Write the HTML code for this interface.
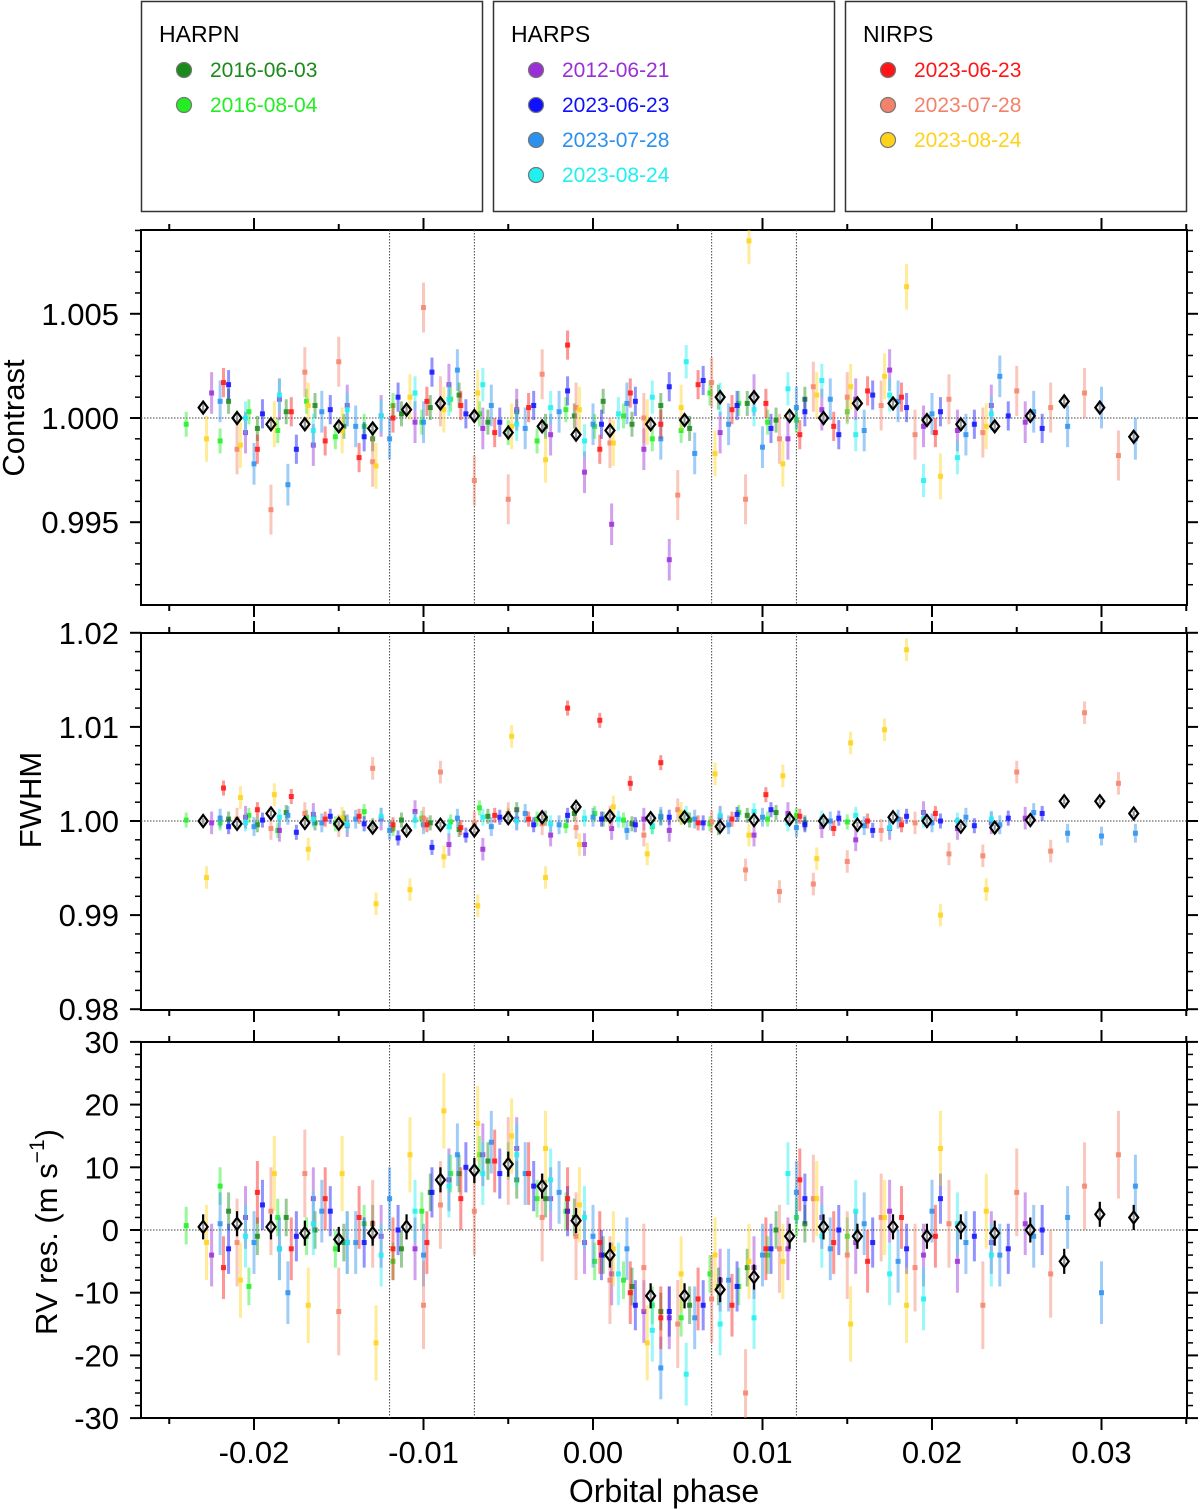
<!DOCTYPE html>
<html><head><meta charset="utf-8"><style>
html,body{margin:0;padding:0;background:#fff;}
svg{display:block;font-family:"Liberation Sans",Arial,sans-serif;}
</style></head><body>
<svg id="chart" width="1200" height="1509" viewBox="0 0 1200 1509" xmlns="http://www.w3.org/2000/svg">
<g id="legend"></g>
<g id="axes"></g>
<g id="marks"></g>
</svg>
<script>
// ---------- data ----------
const binPhase = [-0.023,-0.021,-0.019,-0.017,-0.015,-0.013,-0.011,-0.009,-0.007,-0.005,-0.003,-0.001,0.001,0.0034,0.0054,0.0075,0.0095,0.0116,0.0136,0.0156,0.0177,0.0197,0.0217,0.0237,0.0258,0.0278,0.0299,0.0319];
const binContrast = [1.0005,1.0000,0.9997,0.9997,0.9996,0.9995,1.0004,1.0007,1.0001,0.9993,0.9996,0.9992,0.9994,0.9997,0.9999,1.0010,1.0010,1.0001,1.0000,1.0007,1.0007,0.9999,0.9997,0.9996,1.0001,1.0008,1.0005,0.9991];
const binFwhm = [1.0000,0.9997,1.0008,0.9998,0.9997,0.9993,0.9990,0.9996,0.9990,1.0003,1.0004,1.0015,1.0005,1.0003,1.0004,0.9994,1.0001,1.0002,1.0000,0.9996,1.0004,1.0000,0.9994,0.9993,1.0001,1.0021,1.0021,1.0008];
const binRv = [0.5,1,0.5,-0.5,-1.5,-0.5,0.5,8,9.5,10.5,7,1.5,-4,-10.5,-10.5,-9.5,-7.5,-1,0.5,-1,0.5,-1,0.5,-0.5,0,-5,2.5,2];

const s1Phase = [-0.0215,-0.0198,-0.0181,-0.0164,-0.0147,-0.0130,-0.0113,-0.0096,-0.0079,-0.0062,-0.0045,-0.0028,-0.0011,0.0006,0.0023,0.0040,0.0057,0.0074,0.0091,0.0108,0.0125];
const s1Con = [1.0008,0.9995,1.0003,1.0006,0.9996,0.9990,1.0002,1.0005,1.0011,0.9998,1.0003,0.9996,1.0001,1.0008,0.9997,1.0006,0.9995,1.0010,1.0007,0.9999,1.0009];
const s1Fw = [1.0002,0.9996,1.0009,0.9998,1.0003,0.9995,1.0001,0.9998,0.9991,1.0005,1.0012,1.0003,1.0008,1.0002,0.9997,1.0004,1.0001,0.9993,1.0006,1.0009,0.9998];
const s1Rv = [3,-1,2,0,-2,1,-3,6,9,11,8,5,2,-4,-9,-13,-12,-9,-6,0,1];

const s2Phase = [-0.0240,-0.0220,-0.0203,-0.0186,-0.0169,-0.0152,-0.0135,-0.0118,-0.0101,-0.0084,-0.0067,-0.0050,-0.0033,-0.0016,0.0001,0.0018,0.0035,0.0052,0.0069,0.0086,0.0103,0.0120,0.0150];
const s2Con = [0.9997,0.9989,1.0003,0.9994,1.0008,0.9991,0.9996,1.0006,0.9998,1.0009,1.0002,0.9993,0.9989,1.0004,0.9996,1.0001,0.9990,0.9994,1.0012,1.0007,0.9998,0.9999,1.0003];
const s2Fw = [1.0001,0.9998,1.0006,0.9990,1.0004,0.9997,1.0010,0.9992,1.0003,0.9999,1.0014,1.0006,1.0002,0.9995,1.0008,1.0001,0.9994,1.0004,0.9997,1.0009,1.0002,1.0006,0.9999];
const s2Rv = [0.7,7,-9,2,-1,-3,1,-5,3,9,12,11,5,3,-5,-8,-12,-14,-7,-9,-4,2,-1];

const s3Phase = [-0.0225,-0.0205,-0.0185,-0.0165,-0.0145,-0.0125,-0.0105,-0.0085,-0.0065,-0.0045,-0.0025,-0.0005,0.0011,0.0030,0.0045,0.0075,0.0095,0.0115,0.0135,0.0155,0.0175,0.0195,0.0215,0.0235,0.0255];
const s3Con = [1.0012,0.9993,1.0009,0.9987,1.0006,1.0001,0.9998,1.0016,0.9995,1.0004,0.9992,0.9974,0.9949,0.9985,0.9932,0.9993,1.0011,0.9990,1.0004,1.0009,1.0023,0.9996,0.9994,1.0006,0.9998];
const s3Fw = [0.9998,1.0004,0.9990,1.0007,0.9995,1.0002,1.0010,0.9975,0.9970,1.0002,0.9985,0.9975,0.9992,1.0002,0.9990,1.0004,0.9985,1.0008,0.9994,0.9980,0.9992,1.0009,0.9992,0.9998,1.0003];
const s3Rv = [-4,2,-3,5,-2,-1,-3,8,12,13,5,-2,-7,-13,-14,-8,-6,-3,2,-2,3,-4,-5,-2,1];

const s4Phase = [-0.0215,-0.0195,-0.0175,-0.0155,-0.0135,-0.0115,-0.0095,-0.0075,-0.0055,-0.0035,-0.0015,0.0005,0.0025,0.0045,0.0065,0.0085,0.0105,0.0125,0.0145,0.0165,0.0185,0.0205,0.0225,0.0245,0.0265];
const s4Con = [1.0016,1.0002,0.9985,1.0004,0.9991,1.0010,1.0022,1.0002,0.9998,1.0006,1.0013,0.9997,1.0008,1.0015,1.0018,1.0006,0.9995,1.0003,0.9992,1.0011,1.0005,1.0003,0.9997,1.0001,0.9995];
const s4Fw = [0.9994,1.0001,0.9988,1.0005,0.9997,0.9982,0.9972,0.9985,1.0004,0.9996,1.0006,1.0002,0.9996,1.0004,0.9998,1.0007,1.0012,0.9996,1.0003,0.9990,1.0005,1.0000,0.9995,1.0003,1.0008];
const s4Rv = [-3,4,-1,3,-2,0,6,10,9,7,3,-4,-12,-13,-12,-9,-3,5,0,-2,-3,5,-1,-3,0];

const s5Phase = [-0.0220,-0.0200,-0.0180,-0.0160,-0.0140,-0.0120,-0.0100,-0.0080,-0.0060,-0.0040,-0.0020,0.0000,0.0020,0.0040,0.0060,0.0080,0.0100,0.0120,0.0140,0.0160,0.0180,0.0200,0.0220,0.0240,0.0260,0.0280,0.0300,0.0320];
const s5Con = [1.0008,0.9978,0.9968,1.0003,0.9996,0.9990,0.9998,1.0023,1.0006,0.9995,1.0003,0.9997,1.0007,0.9990,0.9983,0.9997,0.9986,1.0005,1.0009,0.9994,1.0008,1.0002,0.9992,1.0020,1.0003,0.9996,1.0005,0.9990];
const s5Fw = [1.0003,0.9994,1.0006,0.9998,1.0002,0.9990,0.9996,1.0003,0.9994,1.0008,0.9996,1.0004,0.9990,1.0005,1.0002,0.9996,1.0004,0.9993,1.0000,0.9995,1.0002,0.9998,1.0004,0.9996,1.0009,0.9987,0.9984,0.9987];
const s5Rv = [1,-2,-10,3,-2,5,-4,12,14,9,6,-1,-3,-22,-14,-8,-4,6,-3,1,-5,3,-2,-4,-1,2,-10,7];

const s6Phase = [-0.0205,-0.0185,-0.0165,-0.0145,-0.0125,-0.0105,-0.0085,-0.0065,-0.0045,-0.0025,-0.0005,0.0015,0.0035,0.0055,0.0075,0.0095,0.0115,0.0135,0.0155,0.0175,0.0195,0.0215,0.0235];
const s6Con = [1.0000,1.0011,0.9994,1.0004,1.0001,1.0012,1.0009,1.0016,0.9997,1.0005,0.9989,1.0002,1.0010,1.0027,1.0009,1.0004,1.0014,1.0018,0.9992,1.0011,0.9970,0.9981,1.0002];
const s6Fw = [0.9998,1.0004,1.0002,0.9996,1.0005,1.0001,0.9994,1.0004,1.0000,0.9997,1.0003,1.0002,0.9995,1.0007,1.0006,1.0010,0.9998,1.0002,1.0006,0.9993,1.0002,1.0000,1.0002];
const s6Rv = [-1,-3,1,-2,-4,3,7,9,12,8,2,-7,-16,-23,-15,-14,9,-1,3,-7,-11,1,-4];

const s7Phase = [-0.0218,-0.0198,-0.0178,-0.0158,-0.0138,-0.0118,-0.0098,-0.0078,-0.0058,-0.0038,-0.0015,0.0004,0.0022,0.0040,0.0062,0.0082,0.0102,0.0122,0.0142,0.0162,0.0182,0.0202];
const s7Con = [1.0017,0.9985,1.0003,0.9989,0.9981,1.0000,1.0008,1.0006,0.9993,1.0005,1.0035,0.9985,1.0012,0.9997,1.0016,1.0004,1.0007,0.9992,0.9996,1.0013,1.0010,0.9993];
const s7Fw = [1.0035,1.0012,1.0026,1.0002,1.0005,0.9996,0.9996,0.9993,1.0006,1.0002,1.0120,1.0107,1.0040,1.0062,0.9998,1.0002,1.0028,1.0005,0.9992,1.0000,0.9996,1.0008];
const s7Rv = [-6,6,-3,5,2,-3,-2,5,11,9,5,-2,-10,-14,-11,-12,-3,8,-2,-5,2,-1];

const s8Phase = [-0.0210,-0.0190,-0.0170,-0.0150,-0.0130,-0.0100,-0.0090,-0.0070,-0.0050,-0.0030,-0.0010,0.0010,0.0030,0.0050,0.0070,0.0090,0.0110,0.0130,0.0150,0.0170,0.0190,0.0210,0.0230,0.0250,0.0270,0.0290,0.0310];
const s8Con = [0.9985,0.9956,1.0022,1.0027,0.9979,1.0053,1.0008,0.9970,0.9961,1.0021,1.0005,0.9988,1.0000,0.9963,1.0017,0.9961,0.9990,1.0015,1.0010,1.0006,0.9992,1.0009,0.9993,1.0013,1.0005,1.0012,0.9982];
const s8Fw = [1.0002,0.9992,1.0008,0.9995,1.0056,1.0003,1.0052,0.9998,1.0008,0.9997,0.9993,1.0004,0.9985,1.0012,0.9999,0.9948,0.9925,0.9933,0.9957,0.9990,0.9998,0.9965,0.9963,1.0052,0.9968,1.0115,1.0040];
const s8Rv = [-2,3,9,-13,1,-12,4,3,11,2,-1,-8,-6,-15,-11,-26,-3,5,-4,2,-6,1,-12,6,-7,7,12];

const s9Phase = [-0.0228,-0.0208,-0.0188,-0.0168,-0.0148,-0.0128,-0.0108,-0.0088,-0.0068,-0.0048,-0.0028,-0.0008,0.0012,0.0032,0.0052,0.0072,0.0092,0.0112,0.0132,0.0152,0.0172,0.0185,0.0205,0.0232];
const s9Con = [0.9990,0.9987,0.9997,1.0006,0.9994,0.9977,1.0010,1.0004,1.0012,0.9996,0.9980,1.0004,0.9988,0.9998,1.0005,0.9983,1.0085,0.9978,1.0011,1.0015,1.0020,1.0063,0.9972,0.9996];
const s9Fw = [0.9940,1.0025,1.0028,0.9970,1.0003,0.9912,0.9927,0.9962,0.9910,1.0090,0.9940,0.9975,1.0015,0.9965,1.0008,1.0050,0.9985,1.0048,0.9960,1.0083,1.0097,1.0182,0.9900,0.9927];
const s9Rv = [-2,-8,9,-12,9,-18,12,19,17,15,13,4,-3,-18,-7,-4,-5,-5,5,-15,2,-12,13,3];

const seriesNames = ['harpn-2016-06-03','harpn-2016-08-04','harps-2012-06-21','harps-2023-06-23','harps-2023-07-28','harps-2023-08-24','nirps-2023-06-23','nirps-2023-07-28','nirps-2023-08-24'];
const seriesColors = ['#1b8a1b','#22ee22','#9a2fd6','#1010ff','#2b90ee','#20f0f0','#ff1515','#f4826a','#ffd21a'];
const conErr = [0.0006,0.0006,0.0010,0.0007,0.0010,0.0008,0.0007,0.0012,0.0011];
const fwErr = [0.0008,0.0008,0.0012,0.0008,0.0010,0.0009,0.0008,0.0012,0.0012];
const rvErr = [3,3,5,4,5,5,5,7,6];
const allPhase = [s1Phase,s2Phase,s3Phase,s4Phase,s5Phase,s6Phase,s7Phase,s8Phase,s9Phase];
const allCon = [s1Con,s2Con,s3Con,s4Con,s5Con,s6Con,s7Con,s8Con,s9Con];
const allFw = [s1Fw,s2Fw,s3Fw,s4Fw,s5Fw,s6Fw,s7Fw,s8Fw,s9Fw];
const allRv = [s1Rv,s2Rv,s3Rv,s4Rv,s5Rv,s6Rv,s7Rv,s8Rv,s9Rv];

const xTickLabels = ['-0.02','-0.01','0.00','0.01','0.02','0.03'];
const transitLines = [-0.012,-0.007,0.007,0.012];

// ---------- layout ----------
const NS = 'http://www.w3.org/2000/svg';
const L = 141, R = 1187;
const x = p => 593 + p * 16950;
const panels = [
  {name:'contrast', top:230, bot:605, lo:0.991, hi:1.00904, yv:v=>418-(v-1)*20840, major:[0.995,1.000,1.005], labels:['0.995','1.000','1.005'], minorStep:0.001, ref:1},
  {name:'fwhm', top:633, bot:1010, lo:0.98, hi:1.02, yv:v=>821-(v-1)*9410, major:[0.98,0.99,1.00,1.01,1.02], labels:['0.98','0.99','1.00','1.01','1.02'], minorStep:0.002, ref:1},
  {name:'rv', top:1042, bot:1418, lo:-30, hi:30, yv:v=>1230-v*6.27, major:[-30,-20,-10,0,10,20,30], labels:['-30','-20','-10','0','10','20','30'], minorStep:2, ref:0}
];
function el(tag, attrs, parent){const e=document.createElementNS(NS,tag);for(const k in attrs)e.setAttribute(k,attrs[k]);parent.appendChild(e);return e;}
const axes = document.getElementById('axes');
const marks = document.getElementById('marks');
const legend = document.getElementById('legend');

// legend
const groups = [{t:'HARPN',x:141,items:[0,1]},{t:'HARPS',x:493,items:[2,3,4,5]},{t:'NIRPS',x:845,items:[6,7,8]}];
const legendDates = ['2016-06-03','2016-08-04','2012-06-21','2023-06-23','2023-07-28','2023-08-24','2023-06-23','2023-07-28','2023-08-24'];
groups.forEach(g=>{
  const gr = el('g',{},legend);
  
  
  el('rect',{x:g.x+0.5,y:1.5,width:341,height:210,fill:'#fff',stroke:'#333','stroke-width':1.5},gr);
  const tt = el('text',{x:g.x+18,y:42,'font-size':23,fill:'#000'},gr); tt.textContent=g.t;
  g.items.forEach((si,j)=>{
    const cy = 70+35*j;
    const en = el('g',{},gr);
    
    
    el('circle',{cx:g.x+43,cy:cy,r:7.5,fill:seriesColors[si],stroke:'#777','stroke-width':1.2},en);
    const t = el('text',{x:g.x+69,y:cy+7,'font-size':21,fill:seriesColors[si]},en); t.textContent=legendDates[si];
  });
});

// axes
panels.forEach(P=>{
  const g = el('g',{},axes);
  
  
  el('rect',{x:L,y:P.top,width:R-L,height:P.bot-P.top,fill:'none',stroke:'#000','stroke-width':2},g);
  for(let k=-5;k<=7;k++){
    const p=k*0.005, xx=x(p);
    if(xx<L||xx>R) continue;
    const len = (k%2===0)?12:6;
    el('line',{x1:xx,x2:xx,y1:P.top,y2:P.top-len,stroke:'#000','stroke-width':2},g);
    el('line',{x1:xx,x2:xx,y1:P.bot,y2:P.bot+len,stroke:'#000','stroke-width':2},g);
  }
  const start = Math.ceil(P.lo/P.minorStep-1e-6);
  for(let i=start;i*P.minorStep<=P.hi+1e-9;i++){
    const v=i*P.minorStep, yy=P.yv(v);
    if(yy<P.top-0.5||yy>P.bot+0.5) continue;
    const isMaj = P.major.some(m=>Math.abs(m-v)<1e-7);
    const len = isMaj?11:6;
    el('line',{x1:L,x2:L-len,y1:yy,y2:yy,stroke:'#000','stroke-width':isMaj?2:1.5},g);
    el('line',{x1:R,x2:R+len,y1:yy,y2:yy,stroke:'#000','stroke-width':isMaj?2:1.5},g);
  }
  P.major.forEach((m,i)=>{
    const t = el('text',{x:119,y:P.yv(m)+11,'font-size':31,'text-anchor':'end'},g);
    
    
    t.textContent = P.labels[i];
  });
  el('line',{x1:L,x2:R,y1:P.yv(P.ref),y2:P.yv(P.ref),stroke:'#444','stroke-width':1,'stroke-dasharray':'1.5,1.5'},g);
  transitLines.forEach(p=>{
    el('line',{x1:x(p),x2:x(p),y1:P.top,y2:P.bot,stroke:'#444','stroke-width':1,'stroke-dasharray':'1.5,1.5'},g);
  });
});
const t1 = el('text',{x:0,y:0,'font-size':31,'text-anchor':'middle',transform:'translate(24,418) rotate(-90)'},axes);
  t1.textContent='Contrast';
const t2 = el('text',{x:0,y:0,'font-size':31,'text-anchor':'middle',transform:'translate(41,800) rotate(-90)'},axes);
  t2.textContent='FWHM';
const t3 = el('text',{x:0,y:0,'font-size':31,'text-anchor':'middle',transform:'translate(57,1232) rotate(-90)'},axes);
 
t3.innerHTML = 'RV res. (m s<tspan dy="-13" font-size="21">−1</tspan><tspan dy="13">)</tspan>';
xTickLabels.forEach((lab,i)=>{
  const t = el('text',{x:x(-0.02+0.01*i),y:1463,'font-size':31,'text-anchor':'middle'},axes);
   
  t.textContent = lab;
});
const xt = el('text',{x:664,y:1502,'font-size':32,'text-anchor':'middle'},axes);
  xt.textContent='Orbital phase';

// data marks
const valSets = [allCon, allFw, allRv];
const errSets = [conErr, fwErr, rvErr];
panels.forEach((P,pi)=>{
  const pg = el('g',{},marks);
  
  
  for(let s=0;s<9;s++){
    const sg = el('g',{},pg);
    
    
    const ph = allPhase[s], vals = valSets[pi][s], e = errSets[pi][s];
    for(let i=0;i<ph.length&&i<vals.length;i++){
      const cx = x(ph[i]);
      el('line',{x1:cx,x2:cx,y1:Math.max(P.top,P.yv(vals[i]+e)),y2:Math.min(P.bot,P.yv(vals[i]-e)),stroke:seriesColors[s],'stroke-width':3,'stroke-opacity':0.45},sg);
      const yy = P.yv(vals[i]);
      if(yy<P.top||yy>P.bot) continue;
      const r = el('rect',{x:cx-2.5,y:yy-2.5,width:5,height:5,fill:seriesColors[s],'fill-opacity':0.85},sg);
      
      
    }
  }
  const bins = [binContrast, binFwhm, binRv][pi];
  const be = [0.0003,0.0003,2][pi];
  const bg = el('g',{},pg);
  
  
  binPhase.forEach((p,i)=>{
    const cx = x(p), cy = P.yv(bins[i]);
    el('line',{x1:cx,x2:cx,y1:P.yv(bins[i]+be),y2:P.yv(bins[i]-be),stroke:'#000','stroke-width':2.2},bg);
    const d = el('path',{d:`M${cx},${cy-6}L${cx+4.5},${cy}L${cx},${cy+6}L${cx-4.5},${cy}Z`,fill:'#fff','fill-opacity':0.6,stroke:'#000','stroke-width':2.2},bg);
    
    
  });
});
</script>
</body></html>
